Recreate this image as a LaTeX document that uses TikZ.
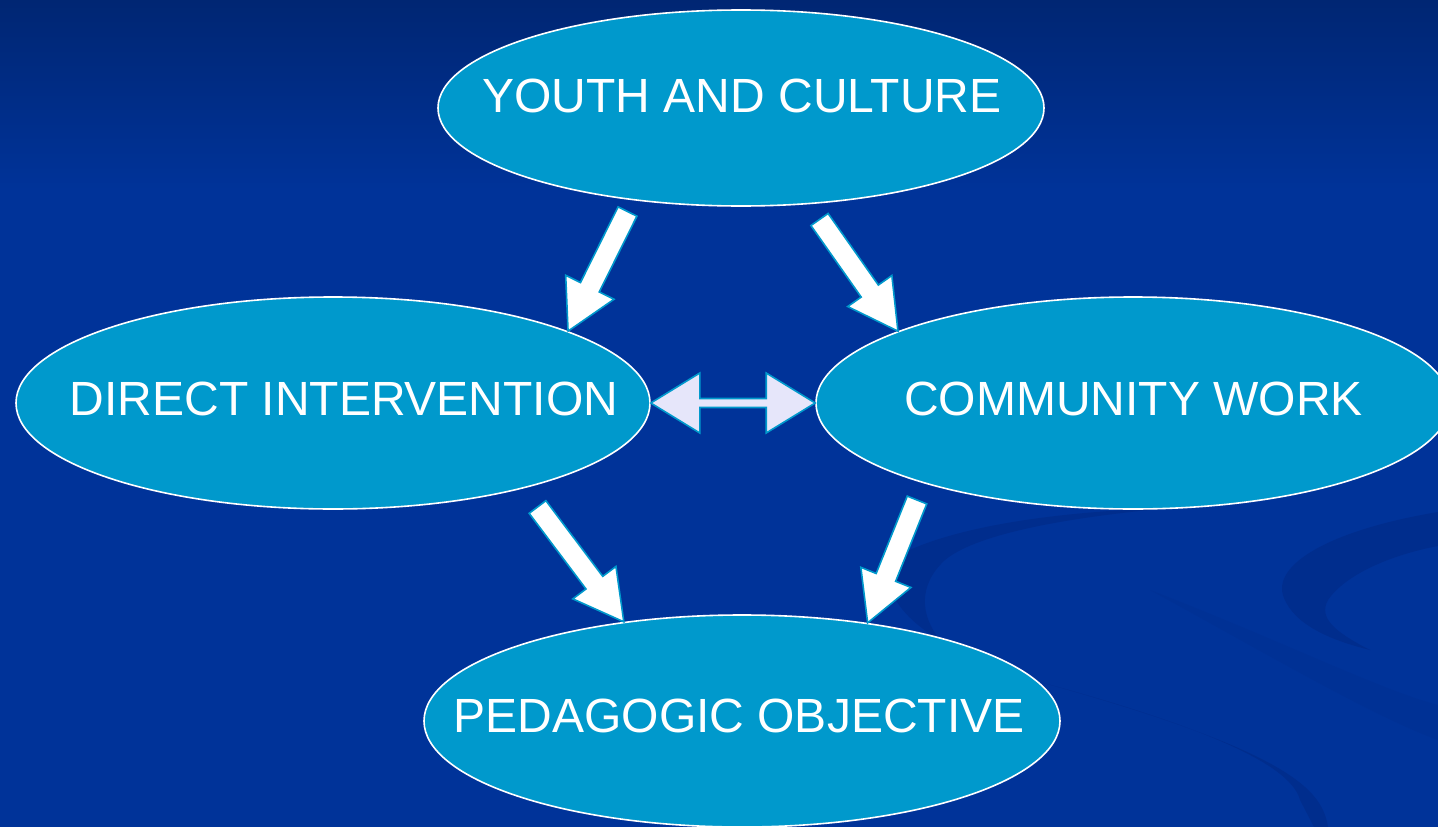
\documentclass[tikz,border=0pt]{standalone}
\usepackage{fontspec}
\setmainfont{Liberation Sans}
\usetikzlibrary{shapes.geometric,calc}
\definecolor{bgblue}{HTML}{003399}
\definecolor{bgtop}{HTML}{002673}
\definecolor{ellfill}{HTML}{0099CC}
\definecolor{lav}{HTML}{E6E6FA}
\definecolor{swirlc}{HTML}{002680}
\tikzset{
  bubble/.style={ellipse, fill=ellfill, draw=white, line width=1.6pt, inner sep=0pt},
  bubtext/.style={anchor=base, text=white, inner sep=0pt, font=\fontsize{48}{58}\selectfont},
  blockarr/.style={fill=white, draw=ellfill, line width=1.6pt, line join=miter},
  duoarr/.style={fill=lav, draw=ellfill, line width=1.6pt, line join=miter},
  swirl/.style={fill=swirlc, fill opacity=0.45, draw=none}
}
% #1 tail, #2 tip, #3 shaft half width, #4 head half width, #5 head length
\newcommand\myblockarrow[5]{%
  \coordinate (bah) at ($(#2)!#5!(#1)$);
  \filldraw[blockarr] ($(#1)!#3!90:(#2)$) -- ($(bah)!#3!90:(#2)$) -- ($(bah)!#4!90:(#2)$) -- (#2)
    -- ($(bah)!#4!-90:(#2)$) -- ($(bah)!#3!-90:(#2)$) -- ($(#1)!#3!-90:(#2)$) -- cycle;
}
\begin{document}
\begin{tikzpicture}[x=1pt,y=-1pt]
\useasboundingbox (0,0) rectangle (1438,827);
\clip (0,0) rectangle (1438,827);
% background
\fill[bgblue] (0,0) rectangle (1438,827);
\shade[top color=bgtop, bottom color=bgblue] (0,0) rectangle (1438,190);
% background swirls
\fill[swirl] (890,560) .. controls (940,530) and (1040,512) .. (1170,508)
  .. controls (1060,518) and (975,535) .. (945,560)
  .. controls (918,585) and (920,615) .. (940,640)
  .. controls (905,620) and (880,590) .. (890,560) -- cycle;
\fill[swirl] (1438,512) .. controls (1330,530) and (1270,565) .. (1284,598)
  .. controls (1295,625) and (1330,640) .. (1370,650)
  .. controls (1335,632) and (1318,618) .. (1328,600)
  .. controls (1345,575) and (1390,555) .. (1438,546) -- cycle;
\fill[swirl] (1040,682) .. controls (1180,720) and (1290,760) .. (1300,800)
  -- (1314,827) -- (1328,827) .. controls (1322,790) and (1292,752) .. (1040,682) -- cycle;
\fill[swirl, fill opacity=0.15] (1150,590) .. controls (1280,640) and (1380,690) .. (1438,705)
  -- (1438,740) .. controls (1370,715) and (1260,650) .. (1150,590) -- cycle;
% ellipses
\node[bubble, minimum width=606pt, minimum height=196pt] (yc) at (741,108) {};
\node[bubble, minimum width=634pt, minimum height=212pt] (di) at (333,403) {};
\node[bubble, minimum width=634pt, minimum height=212pt] (cw) at (1133,403) {};
\node[bubble, minimum width=636pt, minimum height=212pt] (po) at (742,721) {};
% labels
\node[bubtext] (yct) at (742,112.5) {YOUTH AND CULTURE};
\node[bubtext] (dit) at (344,415.5) {DIRECT INTERVENTION};
\node[bubtext] (cwt) at (1133.5,415.5) {COMMUNITY WORK};
\node[bubtext] (pot) at (739,732.5) {PEDAGOGIC OBJECTIVE};
% arrow tails
\coordinate (t1) at (627.5,211.5);
\coordinate (t2) at (819.5,219.5);
\coordinate (t3) at (537.5,507);
\coordinate (t4) at (917,500);
\myblockarrow{t1}{di.17.8}{10.5pt}{27pt}{49pt}
\myblockarrow{t2}{cw.163.1}{10.5pt}{27pt}{49pt}
\myblockarrow{t3}{po.140.8}{10.5pt}{27pt}{49pt}
\myblockarrow{t4}{po.38.2}{10.5pt}{27pt}{49pt}
% double arrow
\filldraw[duoarr] (di.east) -- ($(di.east)+(49,-30)$) -- ($(di.east)+(49,-4.5)$)
  -- ($(cw.west)+(-49,-4.5)$) -- ($(cw.west)+(-49,-30)$) -- (cw.west)
  -- ($(cw.west)+(-49,30)$) -- ($(cw.west)+(-49,4.5)$)
  -- ($(di.east)+(49,4.5)$) -- ($(di.east)+(49,30)$) -- cycle;
\end{tikzpicture}
\end{document}
